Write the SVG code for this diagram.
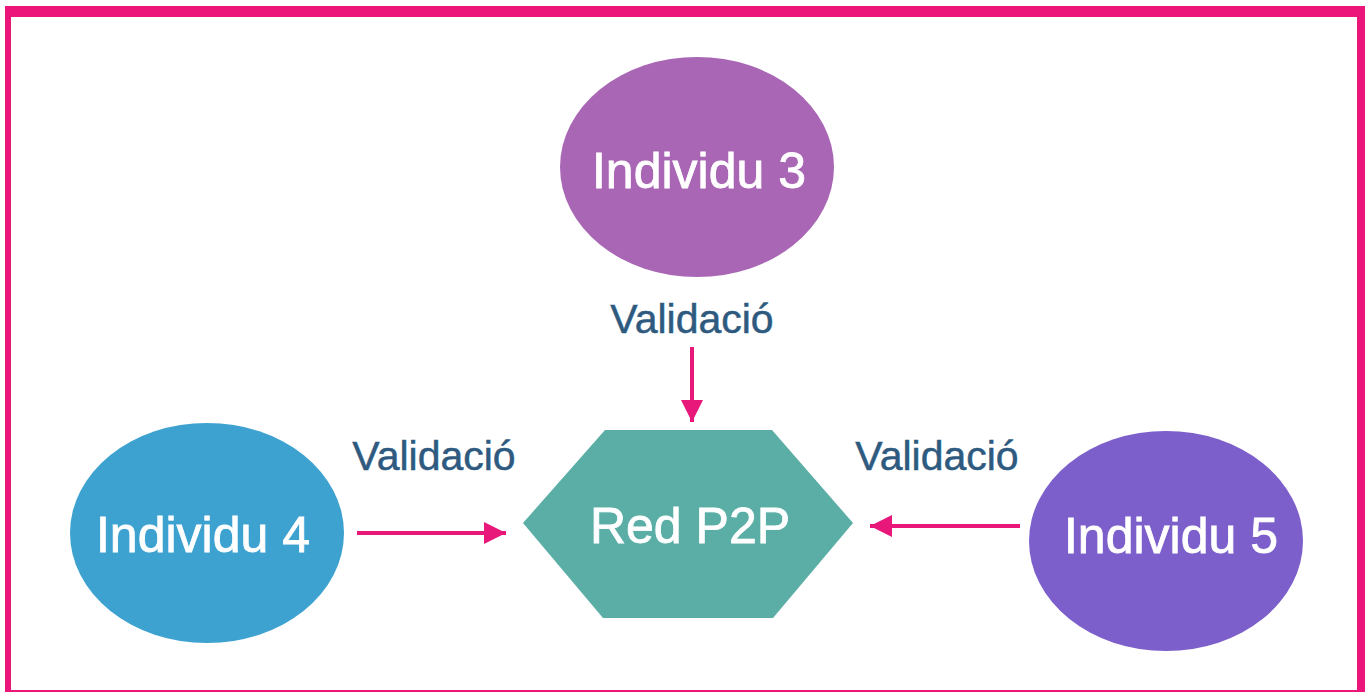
<svg xmlns="http://www.w3.org/2000/svg" width="1367" height="692" viewBox="0 0 1367 692">
<defs>
<style>
.lbl{font-family:"Liberation Sans",Arial,sans-serif;fill:#2E5A80;stroke:#2E5A80;stroke-width:0.5;font-size:41px;text-anchor:middle}
.nt{font-family:"Liberation Sans",Arial,sans-serif;fill:#ffffff;stroke:#ffffff;stroke-width:0.8;font-size:50px;text-anchor:middle}
.con{stroke:#E8177A;stroke-width:4;fill:none}
</style>
<marker id="ah" viewBox="0 0 10 10" refX="10" refY="5" markerWidth="32" markerHeight="22" markerUnits="userSpaceOnUse" orient="auto">
<path d="M0,0 L10,5 L0,10 z" fill="#E8177A"/>
</marker>
</defs>
<rect x="0" y="0" width="1367" height="692" fill="#ffffff"/>
<rect x="5" y="6" width="1360" height="686" fill="#EC1579"/>
<rect x="11" y="17" width="1346" height="673" fill="#ffffff"/>
<g id="node-ind3">
<ellipse cx="697" cy="167" rx="137" ry="110" fill="#A966B5"/>
<text class="nt" x="699" y="188">Individu 3</text>
</g>
<g id="node-ind4">
<ellipse cx="207" cy="533" rx="137" ry="110" fill="#3EA2D1"/>
<text class="nt" x="203" y="552">Individu 4</text>
</g>
<g id="node-ind5">
<ellipse cx="1166" cy="541" rx="137" ry="110" fill="#7D5FCB"/>
<text class="nt" x="1171" y="553">Individu 5</text>
</g>
<g id="node-p2p">
<polygon points="605,430 772,430 853,523 773,618 603,618 523,523" fill="#5AAEA6"/>
<text class="nt" x="690" y="543" font-size="52">Red P2P</text>
</g>
<g id="connectors">
<line class="con" x1="692" y1="347" x2="692" y2="422" marker-end="url(#ah)"/>
<line class="con" x1="357" y1="533" x2="506" y2="533" marker-end="url(#ah)"/>
<line class="con" x1="1020" y1="526" x2="870" y2="526" marker-end="url(#ah)"/>
<text class="lbl" x="692" y="333">Validació</text>
<text class="lbl" x="434" y="470">Validació</text>
<text class="lbl" x="937" y="470">Validació</text>
</g>
</svg>
